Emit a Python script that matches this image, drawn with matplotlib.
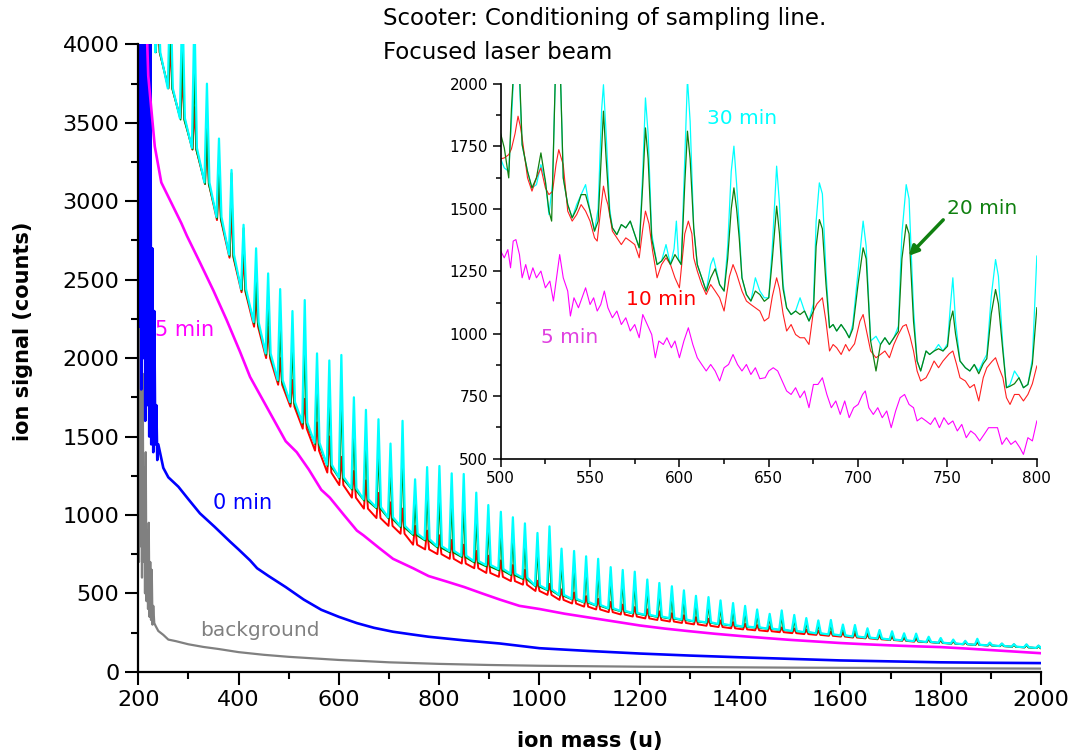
import matplotlib
matplotlib.use("Agg")
import matplotlib.pyplot as plt
from matplotlib.ticker import MultipleLocator

plt.rcParams['font.family'] = ['DejaVu Sans']

# ---------------- main plot data ----------------
# background
bg_mass = [200, 201.5, 203, 204.5, 206, 207.5, 209, 210.5, 212, 213.5, 215, 216.5, 218, 219.5,
           221, 222.5, 224, 225.5, 227, 228.5, 230, 232, 235, 240, 250, 260, 275,
           300, 330, 360, 400, 450, 500, 550, 600, 650, 700, 750, 800, 900, 1000, 1100,
           1200, 1300, 1400, 1500, 1600, 1700, 1800, 1900, 2000]
bg_sig = [1500, 700, 2200, 800, 1850, 600, 1900, 700, 1300, 500, 1400, 450, 900, 400,
          950, 350, 700, 330, 650, 300, 420, 310, 290, 260, 235, 205, 195,
          175, 158, 145, 125, 108, 95, 85, 75, 68, 60, 55, 50, 43, 38, 35,
          32, 30, 28, 26, 25, 24, 22, 21, 20]

# 0 min
m0_mass = [200, 202, 204, 206, 208, 210, 212, 214, 216, 218, 220, 222, 224, 226, 228, 230,
           232, 234, 236, 238, 240, 250, 260, 280, 300,
           323, 352, 383, 400, 423, 437, 460, 494, 530, 565, 600, 636, 670, 708, 745, 779,
           850, 921, 1000, 1100, 1200, 1300, 1400, 1500, 1600, 1700, 1800, 1900, 2000]
m0_sig = [8000, 2200, 7000, 1800, 6500, 2000, 6000, 1600, 5500, 1700, 4500, 1500, 4200, 1450, 2700, 1400,
          2300, 1450, 1700, 1350, 1450, 1300, 1240, 1180, 1100,
          1010, 925, 830, 780, 710, 660, 610, 540, 460, 395, 350, 310, 280, 255, 238, 223,
          200, 180, 150, 132, 116, 103, 92, 82, 72, 66, 60, 57, 55]

# 5 min
m5_mass = [200, 212, 220, 233, 246, 266, 286, 297, 323, 350, 376, 403, 423, 449, 494, 516,
           540, 565, 582, 610, 636, 649, 680, 708, 748, 779, 815, 850, 885, 921, 960, 1000,
           1050, 1100, 1150, 1200, 1250, 1300, 1350, 1400, 1450, 1500, 1550, 1600, 1650,
           1700, 1750, 1800, 1850, 1900, 1950, 2000]
m5_sig = [7000, 4600, 3800, 3350, 3120, 2990, 2860, 2780, 2610, 2430, 2245, 2040, 1880, 1730, 1470, 1400,
          1290, 1160, 1110, 1000, 900, 870, 790, 720, 660, 610, 575, 540, 500, 460, 420, 400,
          370, 345, 320, 295, 275, 258, 242, 228, 215, 203, 193, 183, 175,
          168, 162, 157, 148, 138, 128, 118]

# 10 / 20 / 30 min: steep start, then a series of cluster peaks
lead_mass = [200, 228, 234]
lead_sig = [9000, 5000, 4300]

peak_mass = [239, 264, 288, 312, 337, 361, 386, 410, 435, 459,
             483, 507.5, 532, 556.5, 581, 605, 630, 654, 679, 703,
             727, 752, 776, 800.5, 825, 849, 874, 898, 923, 947,
             971, 996, 1020, 1044, 1069, 1093, 1117, 1142, 1166, 1190,
             1215, 1239, 1264, 1288, 1312, 1337, 1361, 1386, 1410, 1434,
             1459, 1483, 1508, 1532, 1556, 1581, 1605, 1629, 1654, 1678,
             1703, 1727, 1751, 1776, 1800, 1825, 1849, 1873, 1898, 1922,
             1946, 1971, 1995]

cyan_top = [4400, 4400, 4300, 4200, 3750, 3400, 3200, 2850, 2700, 2540,
            2440, 2300, 2370, 2030, 1985, 2020, 1750, 1670, 1610, 1455,
            1600, 1227, 1305, 1312, 1265, 1261, 1142, 1063, 1020, 985,
            946, 885, 927, 785, 770, 736, 720, 667, 649, 638,
            588, 566, 545, 519, 484, 476, 455, 438, 420, 397,
            369, 391, 362, 342, 327, 330, 301, 298, 277, 266,
            258, 245, 243, 223, 215, 205, 197, 210, 186, 180,
            176, 175, 167]
green_top = [4300, 4200, 4000, 3900, 3500, 3250, 3180, 2830, 2560, 2400,
             2250, 2150, 2150, 1890, 1820, 1810, 1580, 1510, 1460, 1345,
             1440, 1090, 1180, 1150, 1120, 1100, 1020, 960, 920, 890,
             860, 810, 830, 720, 705, 680, 660, 620, 600, 585,
             545, 525, 505, 480, 450, 445, 425, 410, 395, 375,
             350, 365, 340, 322, 310, 312, 288, 284, 265, 255,
             248, 236, 234, 216, 208, 199, 192, 200, 182, 176,
             172, 170, 163]
red_top = [4200, 4000, 3800, 3600, 3400, 3150, 2950, 2650, 2400, 2200,
           2000, 1860, 1740, 1590, 1500, 1370, 1280, 1220, 1140, 1080,
           1040, 930, 900, 870, 840, 810, 770, 740, 710, 680,
           650, 580, 560, 525, 505, 482, 465, 445, 428, 412,
           398, 385, 373, 360, 348, 338, 327, 316, 305, 297,
           289, 282, 275, 268, 261, 255, 249, 242, 236, 230,
           224, 218, 213, 208, 203, 197, 192, 188, 183, 179,
           175, 171, 166]
cyan_base = [3950, 3720, 3530, 3340, 3120, 2900, 2660, 2440, 2230, 2030,
             1860, 1720, 1590, 1460, 1320, 1240, 1170, 1100, 1050, 985,
             930, 880, 845, 800, 770, 740, 705, 680, 655, 625,
             600, 550, 525, 490, 465, 445, 425, 405, 388, 375,
             363, 352, 342, 333, 322, 315, 305, 296, 288, 283,
             275, 268, 260, 253, 245, 238, 232, 225, 218, 212,
             205, 200, 195, 190, 185, 180, 176, 172, 168, 164,
             160, 156, 152]
green_base = [3950, 3720, 3520, 3330, 3110, 2890, 2650, 2430, 2220, 2020,
              1850, 1710, 1580, 1450, 1310, 1230, 1160, 1090, 1040, 975,
              920, 870, 835, 790, 760, 730, 695, 670, 645, 615,
              590, 543, 518, 484, 460, 440, 420, 400, 384, 371,
              359, 348, 338, 329, 319, 312, 302, 293, 285, 280,
              273, 266, 258, 251, 244, 237, 231, 224, 217, 211,
              204, 199, 194, 189, 184, 179, 175, 171, 167, 163,
              159, 155, 151]
red_base = [3950, 3720, 3530, 3330, 3110, 2880, 2640, 2420, 2200, 2000,
            1830, 1690, 1550, 1410, 1270, 1190, 1110, 1040, 980, 930,
            880, 810, 780, 750, 720, 690, 660, 630, 605, 578,
            555, 515, 490, 458, 435, 415, 397, 380, 365, 352,
            340, 330, 320, 311, 302, 293, 285, 277, 270, 264,
            258, 252, 246, 240, 235, 229, 224, 218, 213, 207,
            202, 197, 192, 188, 183, 179, 175, 171, 167, 163,
            159, 155, 151]

# ---------------- inset data (500-800 u) ----------------
in_c_mass = [500, 502, 504.5, 506, 508, 510, 512, 515, 517.5, 520, 522.5, 525, 527, 529, 531, 533,
             535, 537.5, 540, 542.5, 545, 547.5, 550, 552.5, 554.5, 556.5, 557.5, 559, 561, 562.5,
             565, 567.5, 570, 572.5, 575, 577.5, 579.5, 581, 582.5, 584.5, 587.5, 590, 592.5, 595,
             597, 598.3, 599.5, 601, 603, 604.5, 606, 608, 610, 612.5, 615, 617.5, 619, 620.5,
             622.5, 625, 627, 629, 630.5, 632, 633.5, 635, 637.5, 640, 642.5, 645, 647.5, 650,
             652, 654.4, 656, 658, 660, 662.5, 665, 667.5, 670, 672.5, 675, 676.5, 678.3, 680,
             682, 684, 686, 688, 690.5, 693, 695, 697, 700, 702.8, 704.5, 707, 710, 712.5, 715,
             717.5, 720, 722.5, 724.5, 726.9, 728.5, 731, 733, 735, 738, 740, 742.5, 745, 747.5,
             750, 751.5, 753, 754.5, 757, 760, 762.5, 765, 767.5, 770, 772, 774.5, 776.9, 778.5,
             781, 783, 785, 787.5, 790, 792.5, 795, 797.5, 800]
in_cyan = [1700, 1664, 1650, 1850, 2150, 2100, 1757, 1650, 1584, 1597, 1677, 1611, 1477, 1600, 2150, 2150,
           1624, 1517, 1464, 1517, 1557, 1597, 1491, 1411, 1500, 1900, 1997, 1800, 1500, 1424,
           1397, 1437, 1424, 1451, 1397, 1344, 1650, 1944, 1800, 1400, 1277, 1291, 1357, 1277,
           1340, 1451, 1300, 1277, 1700, 2020, 1850, 1424, 1277, 1224, 1171, 1277, 1304, 1260,
           1197, 1171, 1350, 1650, 1751, 1600, 1424, 1224, 1157, 1131, 1224, 1171, 1144, 1144,
           1350, 1671, 1520, 1200, 1104, 1077, 1091, 1144, 1091, 1051, 1120, 1450, 1604, 1560,
           1250, 1024, 1037, 1011, 1037, 1011, 984, 1037, 1250, 1451, 1350, 971, 990, 957, 984,
           957, 984, 1030, 1400, 1597, 1540, 1100, 891, 851, 931, 917, 931, 957, 931,
           960, 1100, 1224, 1050, 891, 864, 851, 877, 851, 891, 917, 1150, 1297, 1230,
           950, 784, 797, 851, 824, 784, 797, 900, 1311]

in_g_mass = [500, 502, 504.5, 506, 508, 510, 512, 515, 517.5, 520, 522.5, 525, 527, 528.5, 531, 533,
             535, 537.5, 540, 542.5, 545, 547.5, 550, 552.5, 554.5, 556.5, 557.5, 559, 561, 562.5,
             565, 567.5, 570, 572.5, 575, 577.5, 579.5, 581, 582.5, 584.5, 587.5, 590, 592.5, 595,
             597.5, 601, 603, 604.5, 606, 608, 610, 612.5, 615, 617.5, 620, 622.5, 625, 627, 629,
             630.5, 632, 633.5, 635, 637.5, 640, 642.5, 645, 647.5, 650, 652, 654.4, 656, 658,
             660, 662.5, 665, 667.5, 670, 672.5, 675, 676.5, 678.3, 680, 682, 684, 686, 688,
             690.5, 693, 695, 697, 700, 702.8, 704.5, 707, 710, 712.5, 715, 717.5, 720, 722.5,
             724.5, 726.9, 728.5, 731, 733, 735, 738, 740, 742.5, 745, 747.5, 750, 751.5, 753,
             754.5, 757, 760, 762.5, 765, 767.5, 770, 772, 774.5, 776.9, 778.5, 781, 783, 785,
             787.5, 790, 792.5, 795, 797.5, 800]
in_green = [1800, 1744, 1624, 1900, 2150, 2150, 1757, 1650, 1584, 1624, 1724, 1611, 1491, 1451, 2150, 2150,
            1624, 1517, 1464, 1500, 1557, 1557, 1491, 1411, 1450, 1750, 1891, 1700, 1480, 1424,
            1397, 1437, 1424, 1451, 1397, 1344, 1600, 1824, 1700, 1380, 1277, 1291, 1317, 1277,
            1317, 1277, 1600, 1811, 1700, 1424, 1277, 1224, 1171, 1224, 1260, 1197, 1171, 1300, 1500,
            1584, 1500, 1380, 1224, 1157, 1131, 1171, 1157, 1130, 1144, 1300, 1511, 1400, 1180,
            1104, 1077, 1091, 1077, 1091, 1051, 1091, 1350, 1457, 1420, 1200, 1024, 1037, 1011,
            1037, 1011, 984, 1020, 1200, 1344, 1300, 971, 851, 957, 984, 957, 984, 1010,
            1300, 1437, 1400, 1050, 891, 851, 931, 917, 931, 940, 931, 950, 1050, 1091,
            1000, 891, 864, 851, 877, 840, 880, 900, 1080, 1177, 1120, 930, 784, 790,
            800, 824, 784, 797, 880, 1104]

in_r_mass = [500, 502, 504.5, 506, 508, 509.7, 511, 512, 515, 517.5, 520, 522.5, 525, 527, 529, 531,
             532.5, 534, 535, 537.5, 540, 542.5, 545, 547.5, 550, 552.5, 554, 556, 557.5, 559, 560,
             562.5, 565, 567.5, 570, 572.5, 575, 577.5, 579.5, 581, 583, 585, 587.5, 590, 592.5,
             595, 597.5, 600, 603, 605, 607, 608, 610, 612.5, 615, 617.5, 620, 622.5, 625, 628,
             630, 632, 635, 637.5, 640, 642.5, 645, 647.5, 650, 652, 654.4, 656, 658, 660, 662.5,
             665, 667.5, 670, 672.5, 675, 677, 680, 682, 684, 686, 688, 690.5, 693, 695, 698, 701,
             702.8, 705, 707, 710, 712.5, 715, 717.5, 720, 722.5, 725, 726.9, 729, 731, 733, 735,
             738, 740, 742.5, 745, 747.5, 751, 753, 755, 757, 760, 762.5, 765, 767.5, 770, 772,
             775, 776.9, 779, 781, 783, 785, 787.5, 790, 792.5, 795, 797.5, 800]
in_red = [1700, 1704, 1717, 1740, 1800, 1871, 1830, 1784, 1624, 1571, 1624, 1664, 1584, 1557, 1570, 1680,
          1737, 1700, 1677, 1491, 1451, 1477, 1517, 1491, 1451, 1384, 1371, 1500, 1591, 1540, 1517,
          1411, 1384, 1357, 1384, 1371, 1357, 1304, 1420, 1491, 1440, 1331, 1224, 1277, 1304,
          1277, 1224, 1184, 1400, 1451, 1400, 1304, 1251, 1197, 1157, 1197, 1171, 1144, 1091, 1230,
          1277, 1240, 1171, 1131, 1117, 1104, 1091, 1051, 1064, 1150, 1224, 1180, 1080, 1011, 1037,
          997, 984, 984, 957, 1091, 1120, 1144, 1050, 931, 957, 944, 917, 957, 931, 960, 1050,
          1077, 1000, 931, 904, 917, 931, 904, 957, 997, 1030, 1037, 990, 931, 851, 811,
          824, 851, 891, 864, 891, 920, 931, 880, 824, 811, 784, 797, 731, 824, 864,
          890, 904, 860, 824, 744, 717, 757, 757, 731, 757, 800, 871]

in_m_mass = [500, 502, 504, 505.5, 507, 508.5, 510.5, 512, 514, 516, 518, 520, 522.5, 525, 527.5,
             529.5, 531.5, 533, 535, 537.5, 539, 541, 543.5, 545.5, 547.5, 550, 552, 554, 556, 558,
             560, 562.5, 565, 567.5, 570, 572.5, 575, 577.5, 579.5, 582, 584.5, 586.5, 588.5, 591,
             593, 595.5, 597.5, 600, 602.5, 605, 607.5, 610, 612.5, 615, 617.5, 620, 622.5, 625,
             627.5, 630, 632.5, 635, 637.5, 640, 642.5, 645, 648, 650, 652.5, 655, 657.5, 660,
             662.5, 665, 667.5, 670, 672.5, 675, 677.5, 680, 682.5, 685, 687.5, 690, 692.5, 695,
             697.5, 700, 702.5, 704, 706, 708.5, 711, 713.5, 716, 718.5, 721, 723.5, 726, 728.5,
             731, 733, 735.5, 738, 740.5, 743, 745.5, 748, 750.5, 753, 755.5, 758, 760.5, 763,
             765.5, 768, 770.5, 773, 775.5, 778, 780.5, 783, 785.5, 788, 790.5, 792.5, 795, 797.5,
             800]
in_magenta = [1331, 1304, 1337, 1264, 1371, 1377, 1317, 1224, 1277, 1217, 1264, 1224, 1251, 1184, 1211,
              1131, 1237, 1317, 1224, 1171, 1071, 1144, 1104, 1144, 1184, 1117, 1144, 1091, 1117, 1171,
              1104, 1064, 1091, 1037, 1064, 1011, 1037, 984, 1077, 1037, 997, 904, 971, 957,
              984, 944, 971, 904, 971, 1024, 957, 904, 877, 851, 877, 851, 811, 864,
              877, 917, 877, 851, 877, 837, 864, 820, 824, 851, 864, 851, 811, 771,
              757, 784, 744, 771, 704, 797, 797, 824, 757, 704, 731, 677, 731, 664,
              704, 717, 757, 771, 704, 677, 704, 664, 691, 624, 691, 744, 757, 717,
              704, 651, 664, 651, 637, 664, 624, 664, 637, 651, 611, 637, 584, 611,
              597, 571, 597, 624, 624, 624, 557, 584, 557, 571, 544, 517, 584, 571,
              651]


def peak_trace(pm, top, base, half):
    xs, ys = list(lead_mass), list(lead_sig)
    for m, t, b in zip(pm, top, base):
        xs += [m - half, m, m + half]
        ys += [b, t, b]
    return xs, ys


fig = plt.figure(figsize=(10.74, 7.55), dpi=100)
ax = fig.add_axes([0.1287, 0.1103, 0.8406, 0.8308])

ax.plot(bg_mass, bg_sig, color='#808080', lw=1.6)
ax.plot(m0_mass, m0_sig, color='#0000ff', lw=1.9)
ax.plot(m5_mass, m5_sig, color='#ff00ff', lw=1.9)
x, y = peak_trace(peak_mass, red_top, red_base, 4)
ax.plot(x, y, color='#ff0000', lw=1.4)
x, y = peak_trace(peak_mass, green_top, green_base, 3.5)
ax.plot(x, y, color='#008000', lw=1.2)
x, y = peak_trace(peak_mass, cyan_top, cyan_base, 5)
ax.plot(x, y, color='#00ffff', lw=1.6)

ax.set_xlim(200, 2000)
ax.set_ylim(0, 4000)
ax.xaxis.set_major_locator(MultipleLocator(200))
ax.xaxis.set_minor_locator(MultipleLocator(100))
ax.yaxis.set_major_locator(MultipleLocator(500))
ax.yaxis.set_minor_locator(MultipleLocator(250))
for s in ['top', 'right']:
    ax.spines[s].set_visible(False)
for s in ['left', 'bottom']:
    ax.spines[s].set_linewidth(1.6)
ax.tick_params(which='major', direction='out', length=9.5, width=1.5, labelsize=16, pad=4)
ax.tick_params(which='minor', direction='out', length=5, width=1.5)

ax.text(233, 2180, '5 min', color='#ff00ff', fontsize=15, va='center', ha='left')
ax.text(349, 1076, '0 min', color='#0000ff', fontsize=15, va='center', ha='left')
ax.text(323, 266, 'background', color='#808080', fontsize=14.5, va='center', ha='left')

fig.text(0.0215, 0.5616, 'ion signal (counts)', rotation=90, fontsize=15, fontweight='bold',
         ha='center', va='center')
fig.text(0.549, 0.0185, 'ion mass (u)', fontsize=15, fontweight='bold', ha='center', va='center')
fig.text(0.3566, 0.976, 'Scooter: Conditioning of sampling line.', fontsize=16.5, ha='left', va='center')
fig.text(0.3566, 0.931, 'Focused laser beam', fontsize=16.5, ha='left', va='center')

# ---------------- inset ----------------
axi = fig.add_axes([0.4662, 0.3925, 0.4992, 0.4963])
axi.plot(in_m_mass, in_magenta, color='#ff00ff', lw=0.8)
axi.plot(in_c_mass, in_cyan, color='#00ffff', lw=0.9)
axi.plot(in_r_mass, in_red, color='#ff2020', lw=0.8)
axi.plot(in_g_mass, in_green, color='#108010', lw=0.9)
axi.set_xlim(500, 800)
axi.set_ylim(500, 2000)
axi.xaxis.set_major_locator(MultipleLocator(50))
axi.xaxis.set_minor_locator(MultipleLocator(25))
axi.yaxis.set_major_locator(MultipleLocator(250))
axi.yaxis.set_minor_locator(MultipleLocator(125))
for s in ['top', 'right']:
    axi.spines[s].set_visible(False)
for s in ['left', 'bottom']:
    axi.spines[s].set_linewidth(1.2)
axi.tick_params(which='major', direction='out', length=6, width=1.1, labelsize=11, pad=3)
axi.tick_params(which='minor', direction='out', length=3.5, width=1.1)

axi.text(615.6, 1863, '30 min', color='#00ffff', fontsize=14.5, va='center', ha='left')
axi.text(749.6, 1500, '20 min', color='#108010', fontsize=14.5, va='center', ha='left')
axi.text(570.3, 1137, '10 min', color='#ff0000', fontsize=14.5, va='center', ha='left')
axi.text(522.7, 987, '5 min', color='#e040e0', fontsize=14.5, va='center', ha='left')
axi.annotate('', xy=(727.2, 1304), xytext=(748.7, 1464),
             arrowprops=dict(arrowstyle='-|>', color='#108010', lw=2.5, mutation_scale=14))

fig.savefig('out.png', dpi=100)
